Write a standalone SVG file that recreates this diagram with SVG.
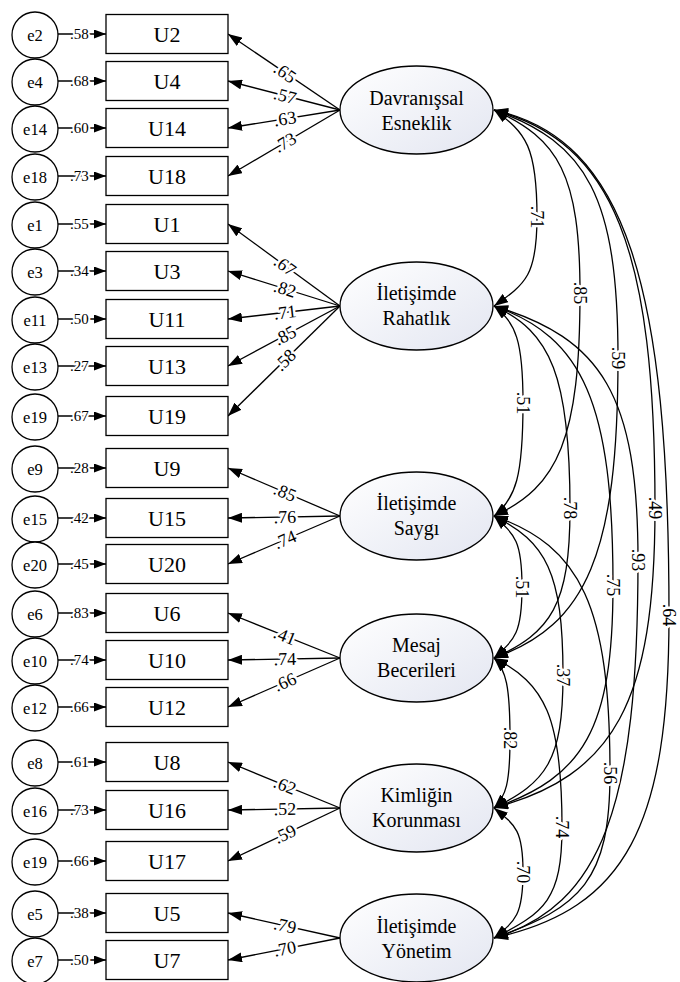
<svg xmlns="http://www.w3.org/2000/svg" width="680" height="982" viewBox="0 0 680 982">
<defs>
<linearGradient id="lg" x1="0" y1="0" x2="1" y2="1">
<stop offset="0" stop-color="#ffffff"/>
<stop offset="1" stop-color="#e3e6f1"/>
</linearGradient>
<marker id="ah" viewBox="0 0 14 10" refX="14" refY="5" markerWidth="14" markerHeight="10" markerUnits="userSpaceOnUse" orient="auto-start-reverse">
<path d="M0,0 L14,5 L0,10 z" fill="#000"/>
</marker>
<marker id="ahs" viewBox="0 0 12 9" refX="12" refY="4.5" markerWidth="12" markerHeight="9" markerUnits="userSpaceOnUse" orient="auto">
<path d="M0,0 L12,4.5 L0,9 z" fill="#000"/>
</marker>
<style>
.bx{fill:#fff;stroke:#000;stroke-width:1.3}
.ci{fill:#fff;stroke:#000;stroke-width:1.3}
.la{fill:url(#lg);stroke:#000;stroke-width:1.3}
.ln{fill:none;stroke:#000;stroke-width:1.3}
text{font-family:"Liberation Serif","Times New Roman",serif;fill:#000}
.tb{font-size:22px;text-anchor:middle}
.te{font-size:16.5px;text-anchor:middle}
.tl{font-size:20px;text-anchor:middle}
.lb{font-size:18px;text-anchor:middle;stroke:#fff;stroke-width:5px;paint-order:stroke;stroke-linejoin:round}
.le{font-size:15px;stroke:#fff;stroke-width:4px;paint-order:stroke;stroke-linejoin:round}
</style>
</defs>
<rect width="680" height="982" fill="#fff"/>

<g id="connectors">
<g class="ln" marker-end="url(#ahs)">
<line x1="58" y1="34" x2="106" y2="34"/>
<line x1="58" y1="81" x2="106" y2="81"/>
<line x1="58" y1="128" x2="106" y2="128"/>
<line x1="58" y1="176" x2="106" y2="176"/>
<line x1="58" y1="224" x2="106" y2="224"/>
<line x1="58" y1="271" x2="106" y2="271"/>
<line x1="58" y1="319" x2="106" y2="319"/>
<line x1="58" y1="366" x2="106" y2="366"/>
<line x1="58" y1="416" x2="106" y2="416"/>
<line x1="58" y1="468" x2="106" y2="468"/>
<line x1="58" y1="518" x2="106" y2="518"/>
<line x1="58" y1="564" x2="106" y2="564"/>
<line x1="58" y1="613" x2="106" y2="613"/>
<line x1="58" y1="660" x2="106" y2="660"/>
<line x1="58" y1="707" x2="106" y2="707"/>
<line x1="58" y1="762" x2="106" y2="762"/>
<line x1="58" y1="810" x2="106" y2="810"/>
<line x1="58" y1="861" x2="106" y2="861"/>
<line x1="58" y1="913" x2="106" y2="913"/>
<line x1="58" y1="960" x2="106" y2="960"/>
</g>
<g class="ln" marker-end="url(#ah)">
<line x1="340" y1="110" x2="228" y2="34"/>
<line x1="340" y1="110" x2="228" y2="81"/>
<line x1="340" y1="110" x2="228" y2="128"/>
<line x1="340" y1="110" x2="228" y2="176"/>
<line x1="340" y1="306" x2="228" y2="224"/>
<line x1="340" y1="306" x2="228" y2="271"/>
<line x1="340" y1="306" x2="228" y2="319"/>
<line x1="340" y1="306" x2="228" y2="366"/>
<line x1="340" y1="306" x2="228" y2="416"/>
<line x1="340" y1="516" x2="228" y2="468"/>
<line x1="340" y1="516" x2="228" y2="518"/>
<line x1="340" y1="516" x2="228" y2="564"/>
<line x1="340" y1="658" x2="228" y2="613"/>
<line x1="340" y1="658" x2="228" y2="660"/>
<line x1="340" y1="658" x2="228" y2="707"/>
<line x1="340" y1="808" x2="228" y2="762"/>
<line x1="340" y1="808" x2="228" y2="810"/>
<line x1="340" y1="808" x2="228" y2="861"/>
<line x1="340" y1="938" x2="228" y2="913"/>
<line x1="340" y1="938" x2="228" y2="960"/>
</g>
<g class="ln" marker-start="url(#ah)" marker-end="url(#ah)">
<path d="M494,110 C526.3,132.6 537,147.4 537,217 C537,274.9 526.3,283.4 494,306"/>
<path d="M494,110 C558.5,139 580,174 580,293 C580,438 558.5,487 494,516"/>
<path d="M494,110 C587,142.6 618,196.8 618,358 C618,553 587,625.4 494,658"/>
<path d="M494,110 C614,142.4 655,249.3 655,508 C655,703 614,775.6 494,808"/>
<path d="M494,110 C626.5,139 669,286.7 669,615 C669,825 626.5,909 494,938"/>
<path d="M494,306 C515.8,323.4 523,340 523,403 C523,476.5 515.8,498.6 494,516"/>
<path d="M494,306 C551,331.7 570,376.7 570,508 C570,605.5 551,632.3 494,658"/>
<path d="M494,306 C583.3,337.2 613,403.6 613,585 C613,730 583.3,776.8 494,808"/>
<path d="M494,306 C602,338.4 638,394.9 638,560 C638,805.7 602,905.6 494,938"/>
<path d="M494,516 C515,534.9 522,540.8 522,587 C522,633.2 515,639.1 494,658"/>
<path d="M494,516 C545.8,541.9 563,571.6 563,675 C563,761.5 545.8,782.1 494,808"/>
<path d="M494,516 C581,546.5 610,606 610,773 C610,880.3 581,907.5 494,938"/>
<path d="M494,658 C506,670 510,686 510,738 C510,783.5 506,796 494,808"/>
<path d="M494,658 C545,683.5 562,717.1 562,827 C562,899.2 545,912.5 494,938"/>
<path d="M494,808 C515.8,825.4 523,830.4 523,872 C523,914.9 515.8,920.6 494,938"/>
</g>
<g class="le">
<text x="70" y="39">.58</text>
<text x="70" y="86">.68</text>
<text x="70" y="133">.60</text>
<text x="70" y="181">.73</text>
<text x="70" y="229">.55</text>
<text x="70" y="276">.34</text>
<text x="70" y="324">.50</text>
<text x="70" y="371">.27</text>
<text x="70" y="421">.67</text>
<text x="70" y="473">.28</text>
<text x="70" y="523">.42</text>
<text x="70" y="569">.45</text>
<text x="70" y="618">.83</text>
<text x="70" y="665">.74</text>
<text x="70" y="712">.66</text>
<text x="70" y="767">.61</text>
<text x="70" y="815">.73</text>
<text x="70" y="866">.66</text>
<text x="70" y="918">.38</text>
<text x="70" y="965">.50</text>
</g>
<g class="lb">
<text transform="translate(285,72.7) rotate(34.2)" y="6">.65</text>
<text transform="translate(285,95.8) rotate(14.5)" y="6">.57</text>
<text transform="translate(285,118.8) rotate(-9.1)" y="6">.63</text>
<text transform="translate(285,142.4) rotate(-30.5)" y="6">.73</text>
<text transform="translate(285,265.7) rotate(36.2)" y="6">.67</text>
<text transform="translate(285,288.8) rotate(17.4)" y="6">.82</text>
<text transform="translate(285,312.4) rotate(-6.6)" y="6">.71</text>
<text transform="translate(285,335.5) rotate(-28.2)" y="6">.85</text>
<text transform="translate(285,360) rotate(-44.5)" y="6">.58</text>
<text transform="translate(285,492.4) rotate(23.2)" y="6">.85</text>
<text transform="translate(285,517) rotate(-1)" y="6">.76</text>
<text transform="translate(285,539.6) rotate(-23.2)" y="6">.74</text>
<text transform="translate(285,635.9) rotate(21.9)" y="6">.41</text>
<text transform="translate(285,659) rotate(-1)" y="6">.74</text>
<text transform="translate(285,682.1) rotate(-23.6)" y="6">.66</text>
<text transform="translate(285,785.4) rotate(22.3)" y="6">.62</text>
<text transform="translate(285,809) rotate(-1)" y="6">.52</text>
<text transform="translate(285,834) rotate(-25.3)" y="6">.59</text>
<text transform="translate(285,925.7) rotate(12.6)" y="6">.79</text>
<text transform="translate(285,948.8) rotate(-11.1)" y="6">.70</text>
</g>
<g class="lb">
<text transform="translate(537,217) rotate(90)" y="6">.71</text>
<text transform="translate(580,293) rotate(90)" y="6">.85</text>
<text transform="translate(618,358) rotate(90)" y="6">.59</text>
<text transform="translate(655,508) rotate(90)" y="6">.49</text>
<text transform="translate(669,615) rotate(90)" y="6">.64</text>
<text transform="translate(523,403) rotate(90)" y="6">.51</text>
<text transform="translate(570,508) rotate(90)" y="6">.78</text>
<text transform="translate(613,585) rotate(90)" y="6">.75</text>
<text transform="translate(638,560) rotate(90)" y="6">.93</text>
<text transform="translate(522,587) rotate(90)" y="6">.51</text>
<text transform="translate(563,675) rotate(90)" y="6">.37</text>
<text transform="translate(610,773) rotate(90)" y="6">.56</text>
<text transform="translate(510,738) rotate(90)" y="6">.82</text>
<text transform="translate(562,827) rotate(90)" y="6">.74</text>
<text transform="translate(523,872) rotate(90)" y="6">.70</text>
</g>
</g>

<g id="e2"><circle class="ci" cx="35" cy="35" r="23"/><text class="te" x="35" y="40.5">e2</text></g>
<g id="e4"><circle class="ci" cx="35" cy="82" r="23"/><text class="te" x="35" y="87.5">e4</text></g>
<g id="e14"><circle class="ci" cx="35" cy="129" r="23"/><text class="te" x="35" y="134.5">e14</text></g>
<g id="e18"><circle class="ci" cx="35" cy="177" r="23"/><text class="te" x="35" y="182.5">e18</text></g>
<g id="e1"><circle class="ci" cx="35" cy="225" r="23"/><text class="te" x="35" y="230.5">e1</text></g>
<g id="e3"><circle class="ci" cx="35" cy="272" r="23"/><text class="te" x="35" y="277.5">e3</text></g>
<g id="e11"><circle class="ci" cx="35" cy="320" r="23"/><text class="te" x="35" y="325.5">e11</text></g>
<g id="e13"><circle class="ci" cx="35" cy="367" r="23"/><text class="te" x="35" y="372.5">e13</text></g>
<g id="e19a"><circle class="ci" cx="35" cy="417" r="23"/><text class="te" x="35" y="422.5">e19</text></g>
<g id="e9"><circle class="ci" cx="35" cy="469" r="23"/><text class="te" x="35" y="474.5">e9</text></g>
<g id="e15"><circle class="ci" cx="35" cy="519" r="23"/><text class="te" x="35" y="524.5">e15</text></g>
<g id="e20"><circle class="ci" cx="35" cy="565" r="23"/><text class="te" x="35" y="570.5">e20</text></g>
<g id="e6"><circle class="ci" cx="35" cy="614" r="23"/><text class="te" x="35" y="619.5">e6</text></g>
<g id="e10"><circle class="ci" cx="35" cy="661" r="23"/><text class="te" x="35" y="666.5">e10</text></g>
<g id="e12"><circle class="ci" cx="35" cy="708" r="23"/><text class="te" x="35" y="713.5">e12</text></g>
<g id="e8"><circle class="ci" cx="35" cy="763" r="23"/><text class="te" x="35" y="768.5">e8</text></g>
<g id="e16"><circle class="ci" cx="35" cy="811" r="23"/><text class="te" x="35" y="816.5">e16</text></g>
<g id="e19b"><circle class="ci" cx="35" cy="862" r="23"/><text class="te" x="35" y="867.5">e19</text></g>
<g id="e5"><circle class="ci" cx="35" cy="914" r="23"/><text class="te" x="35" y="919.5">e5</text></g>
<g id="e7"><circle class="ci" cx="35" cy="961" r="23"/><text class="te" x="35" y="966.5">e7</text></g>

<g id="U2"><rect class="bx" x="106" y="14.5" width="122" height="39"/><text class="tb" x="167" y="41.5">U2</text></g>
<g id="U4"><rect class="bx" x="106" y="61.5" width="122" height="39"/><text class="tb" x="167" y="88.5">U4</text></g>
<g id="U14"><rect class="bx" x="106" y="108.5" width="122" height="39"/><text class="tb" x="167" y="135.5">U14</text></g>
<g id="U18"><rect class="bx" x="106" y="156.5" width="122" height="39"/><text class="tb" x="167" y="183.5">U18</text></g>
<g id="U1"><rect class="bx" x="106" y="204.5" width="122" height="39"/><text class="tb" x="167" y="231.5">U1</text></g>
<g id="U3"><rect class="bx" x="106" y="251.5" width="122" height="39"/><text class="tb" x="167" y="278.5">U3</text></g>
<g id="U11"><rect class="bx" x="106" y="299.5" width="122" height="39"/><text class="tb" x="167" y="326.5">U11</text></g>
<g id="U13"><rect class="bx" x="106" y="346.5" width="122" height="39"/><text class="tb" x="167" y="373.5">U13</text></g>
<g id="U19"><rect class="bx" x="106" y="396.5" width="122" height="39"/><text class="tb" x="167" y="423.5">U19</text></g>
<g id="U9"><rect class="bx" x="106" y="448.5" width="122" height="39"/><text class="tb" x="167" y="475.5">U9</text></g>
<g id="U15"><rect class="bx" x="106" y="498.5" width="122" height="39"/><text class="tb" x="167" y="525.5">U15</text></g>
<g id="U20"><rect class="bx" x="106" y="544.5" width="122" height="39"/><text class="tb" x="167" y="571.5">U20</text></g>
<g id="U6"><rect class="bx" x="106" y="593.5" width="122" height="39"/><text class="tb" x="167" y="620.5">U6</text></g>
<g id="U10"><rect class="bx" x="106" y="640.5" width="122" height="39"/><text class="tb" x="167" y="667.5">U10</text></g>
<g id="U12"><rect class="bx" x="106" y="687.5" width="122" height="39"/><text class="tb" x="167" y="714.5">U12</text></g>
<g id="U8"><rect class="bx" x="106" y="742.5" width="122" height="39"/><text class="tb" x="167" y="769.5">U8</text></g>
<g id="U16"><rect class="bx" x="106" y="790.5" width="122" height="39"/><text class="tb" x="167" y="817.5">U16</text></g>
<g id="U17"><rect class="bx" x="106" y="841.5" width="122" height="39"/><text class="tb" x="167" y="868.5">U17</text></g>
<g id="U5"><rect class="bx" x="106" y="893.5" width="122" height="39"/><text class="tb" x="167" y="920.5">U5</text></g>
<g id="U7"><rect class="bx" x="106" y="940.5" width="122" height="39"/><text class="tb" x="167" y="967.5">U7</text></g>

<g id="F1"><ellipse class="la" cx="416.5" cy="110" rx="76.5" ry="44"/><text class="tl" x="416.5" y="105">Davranışsal</text><text class="tl" x="416.5" y="130">Esneklik</text></g>
<g id="F2"><ellipse class="la" cx="416.5" cy="306" rx="76.5" ry="44"/><text class="tl" x="416.5" y="300">İletişimde</text><text class="tl" x="416.5" y="325">Rahatlık</text></g>
<g id="F3"><ellipse class="la" cx="416.5" cy="516" rx="76.5" ry="44"/><text class="tl" x="416.5" y="510">İletişimde</text><text class="tl" x="416.5" y="535">Saygı</text></g>
<g id="F4"><ellipse class="la" cx="416.5" cy="658" rx="76.5" ry="44"/><text class="tl" x="416.5" y="652">Mesaj</text><text class="tl" x="416.5" y="677">Becerileri</text></g>
<g id="F5"><ellipse class="la" cx="416.5" cy="808" rx="76.5" ry="44"/><text class="tl" x="416.5" y="802">Kimliğin</text><text class="tl" x="416.5" y="827">Korunması</text></g>
<g id="F6"><ellipse class="la" cx="416.5" cy="938" rx="76.5" ry="44"/><text class="tl" x="416.5" y="933">İletişimde</text><text class="tl" x="416.5" y="958">Yönetim</text></g>
</svg>
